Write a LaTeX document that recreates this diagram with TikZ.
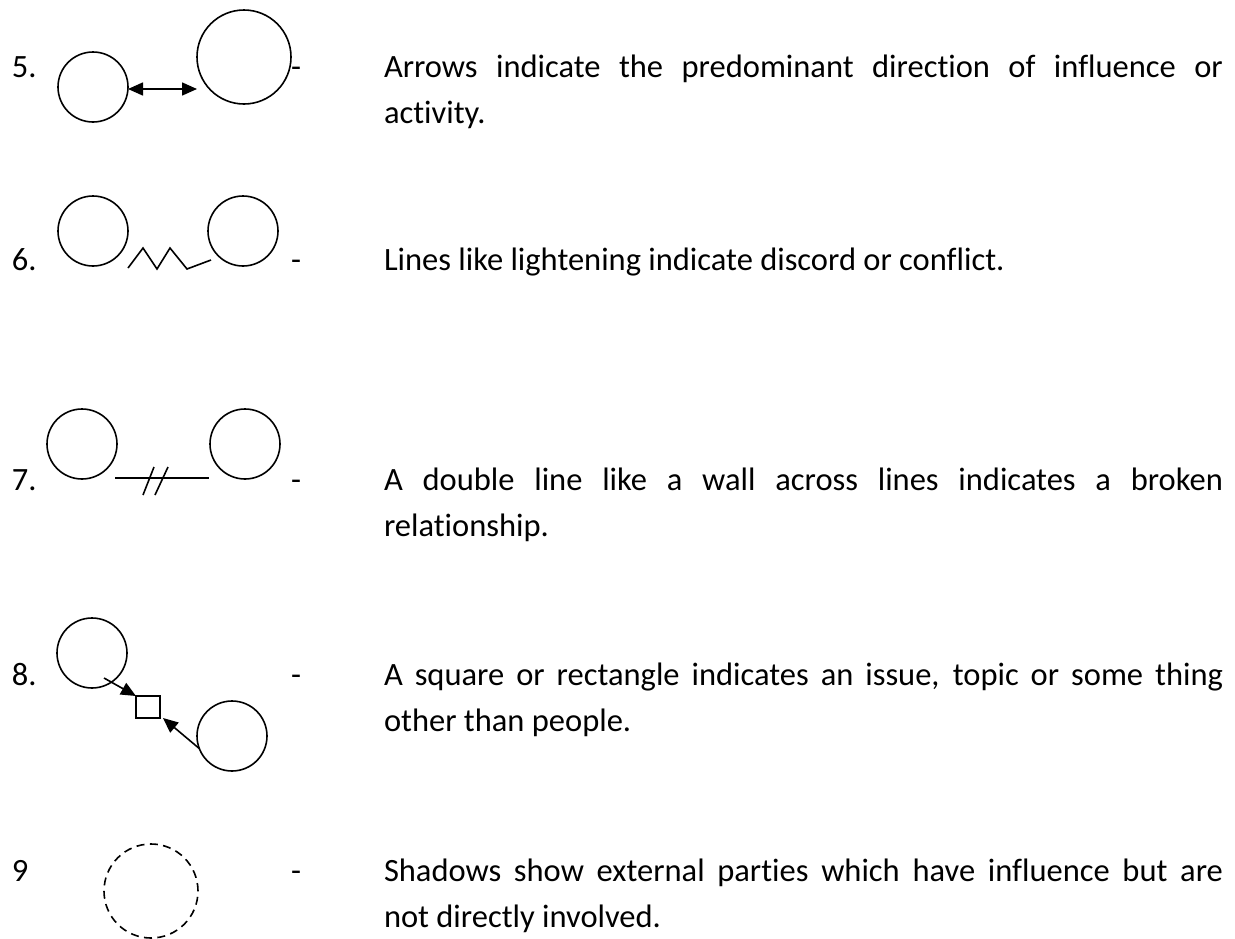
\documentclass[tikz,border=0pt]{standalone}
\usepackage{fontspec}
\setmainfont{Carlito}[Ligatures={NoCommon}]
\usetikzlibrary{arrows.meta}
\begin{document}
\begin{tikzpicture}[x=1pt,y=-1pt,
  every node/.style={inner sep=0pt, outer sep=0pt},
  person/.style={circle,draw,line width=1.6pt,minimum size=70pt},
  bigperson/.style={circle,draw,line width=1.6pt,minimum size=94pt},
  shadowparty/.style={circle,draw,line width=1.6pt,minimum size=94pt,dash pattern=on 8pt off 5.4pt},
  issue/.style={rectangle,draw,line width=1.6pt,minimum width=24pt,minimum height=22pt},
  lbl/.style={anchor=base west,font=\fontsize{32.5}{46}\selectfont},
  desc/.style={anchor=base west,text width=839pt,align=justify,font=\fontsize{32.5}{46}\selectfont},
  conn/.style={line width=1.6pt},
  arrowed/.style={-{Triangle[length=15pt,width=13pt]}},
  twoway/.style={{Triangle[length=15pt,width=13pt]}-{Triangle[length=15pt,width=13pt]}},
]
\path[use as bounding box] (0,0) rectangle (1235,938);

% Row 5
\node[lbl] (n5) at (12,77) {5.};
\node[person] (a5) at (93,87) {};
\node[bigperson] (b5) at (244,57) {};
\coordinate (e5) at (197,89);
\draw[conn,twoway] ([yshift=-2pt]a5.east) -- (e5);
\node[lbl] (h5) at (291,77) {-};
\node[desc] (t5) at (384,77) {Arrows indicate the predominant direction of influence or\linebreak activity.};

% Row 6
\node[lbl] (n6) at (12,270) {6.};
\node[person] (a6) at (93,231) {};
\node[person] (b6) at (243,231) {};
\coordinate (z6a) at (128,268);
\coordinate (z6b) at (211,260);
\draw[conn,line join=miter] (z6a) -- ++(15,-20) -- ++(14,21) -- ++(13,-21) -- ++(17,21) -- (z6b);
\node[lbl] (h6) at (291,270) {-};
\node[desc] (t6) at (384,270) {Lines like lightening indicate discord or conflict.};

% Row 7
\node[lbl] (n7) at (12,490) {7.};
\node[person] (a7) at (82,444) {};
\node[person] (b7) at (245,444) {};
\coordinate (l7a) at (115,478);
\coordinate (l7b) at (209,478);
\draw[conn] (l7a) -- (l7b);
\coordinate (s1a) at (143,495);
\coordinate (s1b) at (154,467);
\coordinate (s2a) at (155,495);
\coordinate (s2b) at (168,467);
\draw[conn] (s1a) -- (s1b);
\draw[conn] (s2a) -- (s2b);
\node[lbl] (h7) at (291,490) {-};
\node[desc] (t7) at (384,490) {A double line like a wall across lines indicates a broken\linebreak relationship.};

% Row 8
\node[lbl] (n8) at (12,685) {8.};
\node[person] (a8) at (92,653) {};
\node[person] (b8) at (232,736) {};
\node[issue] (sq) at (148,707) {};
\coordinate (r8a) at (104,678);
\draw[conn,arrowed] (r8a) -- (sq.north west);
\draw[conn,arrowed] (b8.201.5) -- ([xshift=3pt]sq.south east);
\node[lbl] (h8) at (291,685) {-};
\node[desc] (t8) at (384,685) {A square or rectangle indicates an issue, topic or some thing\linebreak other than people.};

% Row 9
\node[lbl] (n9) at (12,881) {9};
\node[shadowparty] (a9) at (151,891) {};
\node[lbl] (h9) at (291,881) {-};
\node[desc] (t9) at (384,881) {Shadows show external parties which have influence but are\linebreak not directly involved.};
\end{tikzpicture}
\end{document}
